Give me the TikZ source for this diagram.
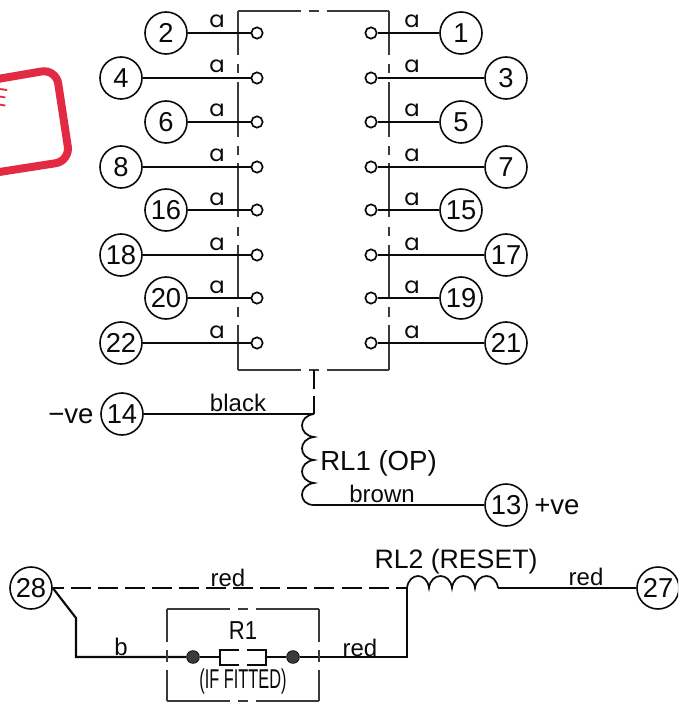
\documentclass[tikz,border=0pt]{standalone}
\usepackage{fontspec}
\setmainfont{Liberation Sans}
\newfontfamily\afont{Poppins}
\definecolor{stamp}{HTML}{E22A45}
\definecolor{ink}{HTML}{0A0A0A}
\definecolor{thin}{HTML}{3A3A3A}
\tikzset{
  num/.style={circle,draw=ink,line width=1.2pt,minimum size=31.5pt,inner sep=0pt,font=\fontsize{20.5}{20.5}\selectfont,text=ink},
  term/.style={circle,draw=ink,line width=1.25pt,minimum size=8.5pt,inner sep=0pt,fill=white},
  wire/.style={draw=ink,line width=1.6pt},
  boxline/.style={draw=thin,line width=0.8pt},
  lab/.style={font=\fontsize{18}{18}\selectfont,text=ink,inner sep=0pt},
  alab/.style={font=\afont\fontsize{17}{17}\selectfont,text=ink,inner sep=0pt},
  biglab/.style={font=\fontsize{20.7}{20.7}\selectfont,text=ink,inner sep=0pt},
  blob/.style={circle,fill=ink!80,draw=ink,line width=0.6pt,minimum size=9.5pt,inner sep=0pt}
}
\begin{document}
\begin{tikzpicture}[x=0.75pt,y=-0.75pt]
\useasboundingbox (0,0) rectangle (678,702);
\clip (0,0) rectangle (678,702);
% stamp
\draw[stamp,line width=6pt,rounded corners=11pt] (-20,82) -- (56,69) -- (70,161) -- (-20,175);
\node[text=stamp,font=\fontsize{19}{19}\selectfont,rotate=-9,inner sep=0pt,anchor=east] (stampE) at (8,99) {E};
% relay box
\foreach \bx in {238,389}{
  \draw[boxline] (\bx,11) -- (\bx,55) (\bx,64) -- (\bx,73) (\bx,82) -- (\bx,137)
     (\bx,146) -- (\bx,155) (\bx,163) -- (\bx,217) (\bx,227) -- (\bx,236)
     (\bx,245) -- (\bx,298) (\bx,307) -- (\bx,317) (\bx,325) -- (\bx,370);
}
\foreach \by in {11,370}{
  \draw[boxline] (238,\by) -- (301,\by) (309,\by) -- (319,\by) (327,\by) -- (389,\by);
}
% terminals
\foreach \n/\m/\y/\xl/\xr in {2/1/33/166/461,4/3/78/121/506,6/5/122/166/461,8/7/167/121/506,16/15/210/166/461,18/17/255/121/506,20/19/298/166/461,22/21/343/121/506}{
  \node[num] (n\n) at (\xl,\y) {\n};
  \node[num] (n\m) at (\xr,\y) {\m};
  \node[term] (t\n) at (257,\y) {};
  \node[term] (t\m) at (371,\y) {};
  \draw[wire] (n\n) -- (t\n);
  \draw[wire] (t\m) -- (n\m);
  \node[alab,anchor=base] (a\n) at (217,\y-5) {a};
  \node[alab,anchor=base] (a\m) at (412,\y-5) {a};
}
% RL1
\node[num] (n14) at (122,414) {14};
\node[num] (n13) at (506,505) {13};
\coordinate (c1) at (314,414);
\coordinate (c2) at (314,437);
\coordinate (c3) at (314,460);
\coordinate (c4) at (314,483);
\coordinate (c5) at (314,505);
\coordinate (v0) at (314,370);
\coordinate (v1) at (314,389);
\coordinate (v2) at (314,396);
\draw[wire] (n14) -- (c1);
\draw[wire] (v0) -- (v1) (v2) -- (c1);
\draw[wire,line width=1.3pt] (c1) .. controls (298,416) and (298,435) .. (c2)
  .. controls (298,439) and (298,458) .. (c3)
  .. controls (298,462) and (298,481) .. (c4)
  .. controls (298,485) and (298,505) .. (c5);
\draw[wire] (c5) -- (n13);
\node[biglab,anchor=base west] (rl1) at (320,470) {RL1 (OP)};
\node[lab] (black) at (238,403) {black};
\node[lab] (brown) at (382,494) {brown};
\node[biglab,anchor=base west] (mve) at (48,423) {−ve};
\node[biglab,anchor=base west] (pve) at (534,514) {+ve};
% bottom circuit
\node[num] (n28) at (31,588) {28};
\node[num] (n27) at (658,588) {27};
\coordinate (l0) at (407,588);
\coordinate (l1) at (429,588);
\coordinate (l2) at (452,588);
\coordinate (l3) at (475,588);
\coordinate (l4) at (498,588);
\coordinate (k1) at (76,618);
\coordinate (k2) at (76,657);
\coordinate (k3) at (407,657);
\draw[wire,dash pattern=on 15pt off 5.3pt,dash phase=6.75pt] (n28.east) -- (l0);
\draw[wire,line width=1.3pt] (l0) .. controls (409,572) and (427,572) .. (l1)
  .. controls (431,572) and (450,572) .. (l2)
  .. controls (454,572) and (473,572) .. (l3)
  .. controls (477,572) and (496,572) .. (l4);
\draw[wire] (l4) -- (n27);
\node[blob] (d1) at (193,657) {};
\node[blob] (d2) at (293,657) {};
\coordinate (r1) at (220,657);
\coordinate (r2) at (266,657);
\draw[wire] (n28.east) -- (k1) -- (k2) -- (d1);
\draw[wire] (d1) -- (r1);
\draw[wire] (r2) -- (d2);
\draw[wire] (d2) -- (k3) -- (l0);
\draw[draw=ink,line width=1.2pt] (239,650) -- (220,650) -- (220,665) -- (239,665) (247,650) -- (266,650) -- (266,665) -- (247,665);
% R1 box
\draw[boxline] (167,609) -- (230,609) (238,609) -- (248,609) (256,609) -- (319,609);
\draw[boxline] (167,701) -- (230,701) (238,701) -- (248,701) (256,701) -- (319,701);
\draw[boxline] (167,609) -- (167,642) (167,650) -- (167,662) (167,670) -- (167,701);
\draw[boxline] (319,609) -- (319,642) (319,650) -- (319,662) (319,670) -- (319,701);
\node[lab] (r1lab) at (243,631) {\scalebox{0.85}[1]{\fontsize{19.5}{19.5}\selectfont R1}};
\node[lab] (fit) at (243,681) {\scalebox{0.72}[1.2]{\fontsize{17}{17}\selectfont (IF FITTED)}};
\node[lab] (red1) at (228,578) {red};
\node[lab] (red2) at (360,648) {red};
\node[lab] (red3) at (586,577) {red};
\node[lab] (b) at (121,647) {b};
\node[biglab,anchor=base] (rl2) at (456,568) {\fontsize{20}{20}\selectfont RL2 (RESET)};
\end{tikzpicture}
\end{document}
